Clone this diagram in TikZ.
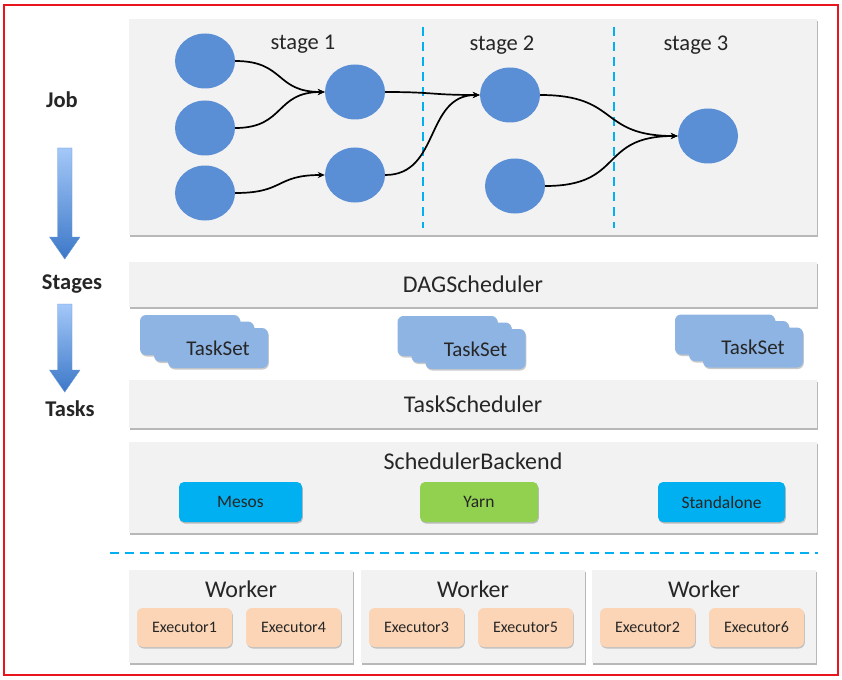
\documentclass[tikz,border=0pt]{standalone}
\usepackage{fontspec}
\setmainfont{Carlito}
\usetikzlibrary{shapes.geometric,shadows,arrows.meta}
\definecolor{panelgray}{HTML}{F2F2F2}
\definecolor{circblue}{HTML}{5A8FD6}
\definecolor{sepcyan}{HTML}{00B0F0}
\definecolor{tsblue}{HTML}{8EB4E3}
\definecolor{mesoscyan}{HTML}{00B0F0}
\definecolor{yarngreen}{HTML}{92D050}
\definecolor{execpeach}{HTML}{FBD5B5}
\definecolor{arrtop}{HTML}{A4C8F8}
\definecolor{arrbot}{HTML}{3C78C8}
\definecolor{txt}{HTML}{262626}
\definecolor{frame}{HTML}{E8141E}
\begin{document}
\begin{tikzpicture}[x=1pt,y=-1pt,
  every node/.style={text=txt},
  panel/.style={rectangle, fill=panelgray, draw=none, inner sep=0pt,
    drop shadow={shadow xshift=0.8pt, shadow yshift=-1.8pt, opacity=0.5, fill=black!55}},
  dot/.style={ellipse, fill=circblue, draw=none, minimum width=60pt, minimum height=55pt, inner sep=0pt},
  flow/.style={draw=black, line width=1.7pt, -{Stealth[length=7pt,width=6pt]}},
  sepline/.style={draw=sepcyan, line width=2.2pt, dash pattern=on 9pt off 6pt},
  tsbox/.style={rectangle, rounded corners=6pt, fill=tsblue, draw=none, minimum width=100pt, minimum height=40pt, inner sep=0pt,
    drop shadow={shadow xshift=0.8pt, shadow yshift=-1.5pt, opacity=0.35, fill=black!60},
    font=\fontsize{21}{25}\selectfont},
  cmbox/.style={rectangle, rounded corners=5pt, draw=none, minimum height=40pt, inner sep=0pt,
    drop shadow={shadow xshift=0.8pt, shadow yshift=-1.5pt, opacity=0.4, fill=black!60},
    font=\fontsize{17.5}{21}\selectfont},
  exbox/.style={rectangle, rounded corners=6pt, fill=execpeach, draw=none, minimum width=95pt, minimum height=39pt, inner sep=0pt,
    drop shadow={shadow xshift=0.8pt, shadow yshift=-1.5pt, opacity=0.35, fill=black!60},
    font=\fontsize{16}{19}\selectfont},
  sidelabel/.style={font=\bfseries\fontsize{22.5}{26}\selectfont, inner sep=0pt},
  big/.style={font=\fontsize{22.5}{26}\selectfont, inner sep=0pt},
  bartext/.style={font=\fontsize{24}{28}\selectfont},
  worker/.style={font=\fontsize{24}{28}\selectfont, inner sep=0pt}
]
\useasboundingbox (0,0) rectangle (842,679);
\fill[white] (0,0) rectangle (842,679);

% red frame
\draw[frame, line width=2pt] (4,5) rectangle (838,675);

% job panel
\node[panel, minimum width=688pt, minimum height=216pt] (jobpanel) at (473,127) {};
\node[big] (st1) at (303,44) {stage 1};
\node[big] (st2) at (502,45) {stage 2};
\node[big] (st3) at (696,45) {stage 3};
\draw[sepline] (423,27) -- (423,228);
\draw[sepline] (614,27) -- (614,228);

\node[dot] (a1) at (205,61) {};
\node[dot] (a2) at (205,128) {};
\node[dot] (a3) at (205,193) {};
\node[dot] (b1) at (355,92) {};
\node[dot] (b2) at (355,175) {};
\node[dot] (c1) at (510,95) {};
\node[dot] (c2) at (515,186) {};
\node[dot] (d) at (708,136) {};

\draw[flow] (a1.east) .. controls +(50,0) and +(-50,0) .. (b1.west);
\draw[flow] (a2.east) .. controls +(50,0) and +(-50,0) .. (b1.west);
\draw[flow] (a3.east) .. controls +(50,0) and +(-50,0) .. (b2.west);
\draw[flow] (b1.east) .. controls +(50,0) and +(-50,0) .. (c1.west);
\draw[flow] (b2.east) .. controls +(55,0) and +(-55,0) .. (c1.west);
\draw[flow] (c1.east) .. controls +(80,0) and +(-80,0) .. (d.west);
\draw[flow] (c2.east) .. controls +(80,0) and +(-80,0) .. (d.west);

% left labels and arrows
\node[sidelabel] (job) at (62,100) {Job};
\node[sidelabel] (stages) at (72,284) {Stages};
\node[sidelabel] (tasks) at (70,409) {Tasks};
\shade[top color=arrtop, bottom color=arrbot, draw=arrbot!80, line width=0.4pt]
  (57.5,148) -- (72,148) -- (72,237) -- (80,237) -- (64.75,259) -- (49.5,237) -- (57.5,237) -- cycle;
\shade[top color=arrtop, bottom color=arrbot, draw=arrbot!80, line width=0.4pt]
  (57.5,304) -- (72,304) -- (72,370) -- (80,370) -- (64.75,392) -- (49.5,370) -- (57.5,370) -- cycle;

% DAGScheduler
\node[panel, minimum width=688pt, minimum height=45pt, bartext] (dag) at (473,284.5) {DAGScheduler};

% TaskSets
\foreach \n/\cx/\cy in {ta/218/348, tb/475.5/349, tc/753/347.5}{
  \node[tsbox] (\n3) at (\cx-28,\cy-13) {};
  \node[tsbox] (\n2) at (\cx-14,\cy-6.5) {};
  \node[tsbox] (\n1) at (\cx,\cy) {TaskSet};
}

% TaskScheduler
\node[panel, minimum width=688pt, minimum height=48pt, bartext] (tsched) at (473,404) {TaskScheduler};

% SchedulerBackend
\node[panel, minimum width=688pt, minimum height=91pt] (sb) at (473,487.5) {};
\node[bartext, inner sep=0pt] (sbtitle) at (473,461) {SchedulerBackend};
\node[cmbox, fill=mesoscyan, minimum width=123pt] (mesos) at (240.5,502) {Mesos};
\node[cmbox, fill=yarngreen, minimum width=118pt] (yarn) at (479,502) {Yarn};
\node[cmbox, fill=mesoscyan, minimum width=127pt] (standalone) at (721.5,502) {Standalone};

% horizontal separator
\draw[sepline] (110,553) -- (818,553);

% Workers
\node[panel, minimum width=224pt, minimum height=93pt] (w1) at (241,616.5) {};
\node[panel, minimum width=224pt, minimum height=93pt] (w2) at (473,616.5) {};
\node[panel, minimum width=224pt, minimum height=93pt] (w3) at (704,616.5) {};
\node[worker] (w1t) at (241,589) {Worker};
\node[worker] (w2t) at (473,589) {Worker};
\node[worker] (w3t) at (704,589) {Worker};

\node[exbox] (e1) at (184.5,627.5) {Executor1};
\node[exbox] (e4) at (293.5,627.5) {Executor4};
\node[exbox] (e3) at (416.5,627.5) {Executor3};
\node[exbox] (e5) at (525.5,627.5) {Executor5};
\node[exbox] (e2) at (647.5,627.5) {Executor2};
\node[exbox] (e6) at (756.5,627.5) {Executor6};
\end{tikzpicture}
\end{document}
